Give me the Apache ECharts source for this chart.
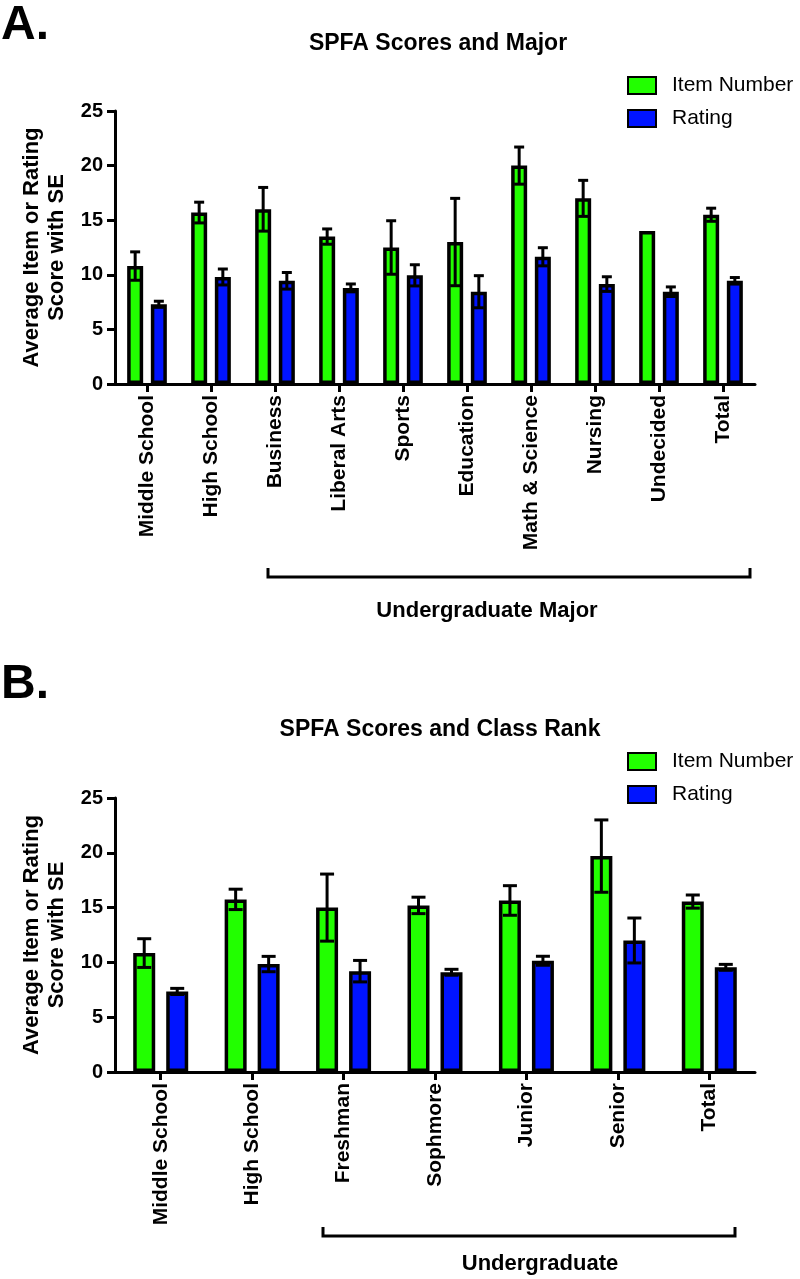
<!DOCTYPE html>
<html>
<head>
<meta charset="utf-8">
<script src="https://cdn.jsdelivr.net/npm/echarts@6/dist/echarts.min.js"></script>
<style>
html,body{margin:0;padding:0;background:#fff;}
#chart{width:800px;height:1279px;}
</style>
</head>
<body>
<div id="chart"></div>
<script>
// ---- Data ----
const catsA = ['Middle School','High School','Business','Liberal Arts','Sports','Education','Math & Science','Nursing','Undecided','Total'];
const itemA = [10.8, 15.7, 16.0, 13.5, 12.5, 13.0, 20.0, 17.0, 14.0, 15.5];
const itemSeA = [1.3, 0.95, 2.0, 0.7, 2.45, 4.0, 1.7, 1.65, 0, 0.6];
const ratingA = [7.3, 9.8, 9.45, 8.8, 9.95, 8.45, 11.65, 9.15, 8.45, 9.45];
const ratingSeA = [0.28, 0.73, 0.76, 0.36, 0.97, 1.47, 0.83, 0.67, 0.44, 0.3];

const catsB = ['Middle School','High School','Freshman','Sophmore','Junior','Senior','Total'];
const itemB = [10.85, 15.75, 15.0, 15.2, 15.65, 19.7, 15.55];
const itemSeB = [1.31, 0.93, 3.06, 0.75, 1.35, 3.3, 0.6];
const ratingB = [7.35, 9.85, 9.2, 9.1, 10.15, 12.0, 9.55];
const ratingSeB = [0.28, 0.7, 0.98, 0.27, 0.41, 2.05, 0.27];

const yTicks = [0, 5, 10, 15, 20, 25];
const seriesNames = ['Item Number', 'Rating'];
const titleA = 'SPFA Scores and Major';
const titleB = 'SPFA Scores and Class Rank';
const yName = 'Average Item or Rating\nScore with SE';

// ---- Styles ----
const GREEN = '#22ff00';
const BLUE = '#0014ff';
const FONT = '"Liberation Sans", Arial, Helvetica, sans-serif';

function errData(vals, ses) {
  return vals.map((v, i) => [i, v, ses[i]]);
}

function errSeries(name, vals, ses, axisIdx, barW, gapRatio, side, capHalf) {
  return {
    type: 'custom',
    name: name,
    xAxisIndex: axisIdx,
    yAxisIndex: axisIdx,
    z: 10,
    silent: true,
    data: errData(vals, ses),
    encode: { x: 0, y: 1 },
    renderItem: function (params, api) {
      const idx = api.value(0);
      const mean = api.value(1);
      const se = api.value(2);
      if (!se) return null;
      const c = api.coord([idx, mean]);
      const off = (barW + barW * gapRatio) / 2 * side;
      const x = c[0] + off;
      const top = api.coord([idx, mean + se])[1];
      const bot = api.coord([idx, mean - se])[1];
      const st = { stroke: '#000', lineWidth: 3 };
      return {
        type: 'group',
        children: [
          { type: 'line', shape: { x1: x, y1: top, x2: x, y2: bot }, style: st },
          { type: 'line', shape: { x1: x - capHalf, y1: top, x2: x + capHalf, y2: top }, style: st },
          { type: 'line', shape: { x1: x - capHalf, y1: bot, x2: x + capHalf, y2: bot }, style: st }
        ]
      };
    }
  };
}

function barSeries(name, vals, axisIdx, color, barW, gap) {
  return {
    type: 'bar',
    name: name,
    xAxisIndex: axisIdx,
    yAxisIndex: axisIdx,
    data: vals,
    barWidth: barW,
    barGap: gap,
    itemStyle: { color: color, borderColor: '#000', borderWidth: 3.5 },
    emphasis: { disabled: true }
  };
}

function xAxisCfg(cats, gridIdx) {
  return {
    type: 'category',
    gridIndex: gridIdx,
    data: cats,
    axisLine: { show: true, lineStyle: { color: '#000', width: 3 } },
    axisTick: { show: true, alignWithLabel: true, length: 8, lineStyle: { color: '#000', width: 3 } },
    axisLabel: { interval: 0, rotate: 90, margin: 11, color: '#000', fontFamily: FONT, fontWeight: 'bold', fontSize: 21 },
    splitLine: { show: false }
  };
}

function yAxisCfg(gridIdx) {
  return {
    type: 'value',
    gridIndex: gridIdx,
    min: yTicks[0],
    max: yTicks[yTicks.length - 1],
    interval: yTicks[1] - yTicks[0],
    name: yName,
    nameLocation: 'middle',
    nameRotate: 90,
    nameGap: 44,
    nameTextStyle: { color: '#000', fontFamily: FONT, fontWeight: 'bold', fontSize: 22, lineHeight: 25 },
    axisLine: { show: true, lineStyle: { color: '#000', width: 3 } },
    axisTick: { show: true, length: 8, lineStyle: { color: '#000', width: 3 } },
    axisLabel: { margin: 12, color: '#000', fontFamily: FONT, fontWeight: 'bold', fontSize: 20 },
    splitLine: { show: false }
  };
}

function legendCfg(top) {
  return {
    orient: 'vertical',
    left: 622,
    top: top,
    itemWidth: 28,
    itemHeight: 17,
    itemGap: 12,
    icon: 'rect',
    selectedMode: false,
    data: seriesNames,
    textStyle: { color: '#000', fontFamily: FONT, fontSize: 21, lineHeight: 20, padding: [0, 0, 0, 11] }
  };
}

const bwA = 16, gapA = 0.48;
const bwB = 22, gapB = 0.5;

const option = {
  backgroundColor: '#fff',
  animation: false,
  title: [
    { text: titleA, left: 433, top: 25, textAlign: 'center',
      textStyle: { color: '#000', fontFamily: FONT, fontWeight: 'bold', fontSize: 23, lineHeight: 27 } },
    { text: titleB, left: 435, top: 711, textAlign: 'center',
      textStyle: { color: '#000', fontFamily: FONT, fontWeight: 'bold', fontSize: 23, lineHeight: 27 } }
  ],
  legend: [legendCfg(70), legendCfg(746)],
  grid: [
    { left: 115, right: 45, top: 111, height: 273, outerBoundsMode: 'none' },
    { left: 115, right: 45, top: 798, height: 274, outerBoundsMode: 'none' }
  ],
  xAxis: [xAxisCfg(catsA, 0), xAxisCfg(catsB, 1)],
  yAxis: [yAxisCfg(0), yAxisCfg(1)],
  series: [
    barSeries(seriesNames[0], itemA, 0, GREEN, bwA, (gapA * 100) + '%'),
    barSeries(seriesNames[1], ratingA, 0, BLUE, bwA, (gapA * 100) + '%'),
    errSeries(seriesNames[0], itemA, itemSeA, 0, bwA, gapA, -1, 5),
    errSeries(seriesNames[1], ratingA, ratingSeA, 0, bwA, gapA, 1, 5),
    barSeries(seriesNames[0], itemB, 1, GREEN, bwB, (gapB * 100) + '%'),
    barSeries(seriesNames[1], ratingB, 1, BLUE, bwB, (gapB * 100) + '%'),
    errSeries(seriesNames[0], itemB, itemSeB, 1, bwB, gapB, -1, 7),
    errSeries(seriesNames[1], ratingB, ratingSeB, 1, bwB, gapB, 1, 7)
  ],
  graphic: [
    { type: 'text', left: 1, top: 2, style: { text: 'A.', fill: '#000', font: 'bold 48px ' + FONT } },
    { type: 'text', left: 1, top: 661, style: { text: 'B.', fill: '#000', font: 'bold 48px ' + FONT } },
    { type: 'polyline', shape: { points: [[268, 568], [268, 577], [750, 577], [750, 568]] },
      style: { stroke: '#000', lineWidth: 3, fill: null } },
    { type: 'text', x: 487, y: 611, style: { text: 'Undergraduate Major', fill: '#000', font: 'bold 22px ' + FONT, align: 'center', verticalAlign: 'middle' } },
    { type: 'polyline', shape: { points: [[323, 1227], [323, 1236], [735, 1236], [735, 1227]] },
      style: { stroke: '#000', lineWidth: 3, fill: null } },
    { type: 'text', x: 540, y: 1264, style: { text: 'Undergraduate', fill: '#000', font: 'bold 22px ' + FONT, align: 'center', verticalAlign: 'middle' } }
  ]
};

const chart = echarts.init(document.getElementById('chart'), null, { renderer: 'canvas' });
chart.setOption(option);
</script>
</body>
</html>
